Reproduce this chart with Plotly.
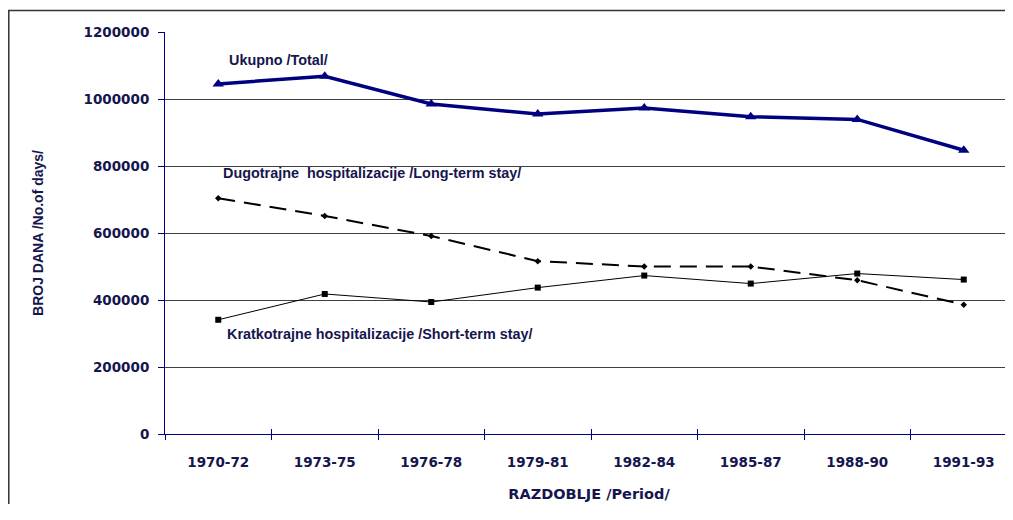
import plotly.graph_objects as go

periods = ["1970-72", "1973-75", "1976-78", "1979-81", "1982-84", "1985-87", "1988-90", "1991-93"]
total = [1045000, 1068000, 985000, 955000, 973000, 947000, 939000, 847000]
long_term = [704000, 651000, 591000, 516000, 500000, 500000, 459000, 386000]
short_term = [341000, 418000, 394000, 437000, 473000, 449000, 479000, 461000]
y_ticks = [0, 200000, 400000, 600000, 800000, 1000000, 1200000]

NAVY_TXT = "#16164e"
NAVY = "#000080"

W, H = 1005, 496
ML, MT, MB, MR = 157, 24, 70, 0
PW = W - ML - MR
PH = H - MT - MB

fig = go.Figure()
fig.add_trace(go.Scatter(x=periods, y=short_term, mode="lines+markers", name="Kratkotrajne hospitalizacije /Short-term stay/",
                         line=dict(color="black", width=1), marker=dict(symbol="square", size=6, color="black")))
fig.add_trace(go.Scatter(x=periods, y=long_term, mode="lines+markers", name="Dugotrajne hospitalizacije /Long-term stay/",
                         line=dict(color="black", width=2, dash="17px,9px"), marker=dict(symbol="diamond", size=5, color="black")))
fig.add_trace(go.Scatter(x=periods, y=total, mode="lines+markers", name="Ukupno /Total/",
                         line=dict(color=NAVY, width=3.5), marker=dict(symbol="triangle-up", size=10, color=NAVY)))

# invisible trace on a second x axis to give crossing tick marks
fig.add_trace(go.Scatter(x=periods, y=total, xaxis="x2", mode="lines", line=dict(width=0), opacity=0,
                         hoverinfo="skip", showlegend=False))

ann_font = dict(family="Liberation Sans, Arial", size=14.4, color=NAVY_TXT, weight="bold")
fig.add_annotation(text="Ukupno /Total/", x=0.08, y=1115000, xref="x", yref="y", xanchor="left",
                   showarrow=False, font=ann_font)
fig.add_annotation(text="Dugotrajne  hospitalizacije /Long-term stay/", x=0.022, y=780000, xref="x", yref="y",
                   xanchor="left", showarrow=False, font=ann_font)
fig.add_annotation(text="Kratkotrajne hospitalizacije /Short-term stay/", x=0.062, y=300000, xref="x", yref="y",
                   xanchor="left", showarrow=False, font=ann_font)

xr = [-0.5, -0.5 + PW / 106.5]
fig.update_layout(
    width=W, height=H, autosize=False,
    margin=dict(l=ML, r=MR, t=MT, b=MB),
    paper_bgcolor="white", plot_bgcolor="white",
    showlegend=False,
    xaxis=dict(type="category", range=xr, tickson="boundaries", ticks="outside", ticklen=5, tickcolor=NAVY,
               showline=True, linecolor=NAVY, linewidth=1, showgrid=False, zeroline=False,
               tickfont=dict(family="DejaVu Sans", size=13.5, color=NAVY_TXT, weight="bold"),
               ticklabelstandoff=16,
               title=dict(text="RAZDOBLJE /Period/", standoff=19,
                          font=dict(family="DejaVu Sans", size=14.5, color=NAVY_TXT, weight="bold"))),
    xaxis2=dict(type="category", range=xr, overlaying="x", tickson="boundaries", ticks="inside", ticklen=5,
                tickcolor=NAVY, showticklabels=False, showgrid=False, zeroline=False, side="bottom",
                matches="x"),
    yaxis=dict(range=[0, 1200000], tickvals=y_ticks, tickformat="d", ticks="outside", ticklen=6, tickcolor=NAVY,
               showline=True, linecolor=NAVY, linewidth=1, showgrid=True, gridcolor="#404040", gridwidth=1,
               zeroline=False,
               tickfont=dict(family="DejaVu Sans", size=13.5, color=NAVY_TXT, weight="bold"),
               ticklabelstandoff=6,
               title=dict(text="BROJ DANA /No.of days/", standoff=36,
                          font=dict(family="Liberation Sans, Arial", size=14, color=NAVY_TXT, weight="bold"))),
)

# outer chart border (left and top edges visible, the rest runs off the picture)
fig.add_shape(type="rect", xref="paper", yref="paper",
              x0=(0.8 - ML) / PW, x1=1.2, y0=-0.3, y1=1 + (MT - 2.5) / PH,
              line=dict(color="#333333", width=1.5), fillcolor="rgba(0,0,0,0)", layer="below")

fig.write_html("out.html", config={"displayModeBar": False})
